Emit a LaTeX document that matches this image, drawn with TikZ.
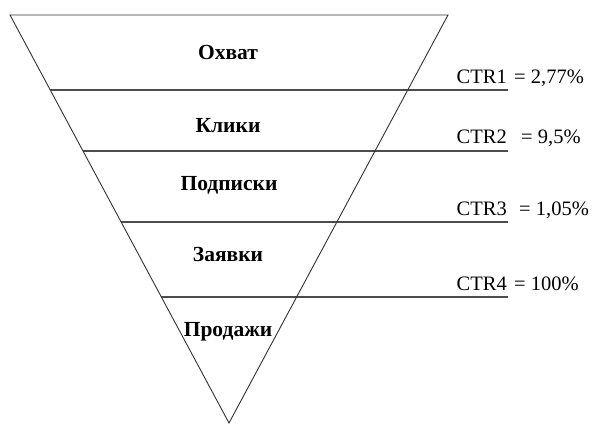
\documentclass[tikz,border=0pt]{standalone}
\usepackage{fontspec}
\setmainfont{Liberation Serif}
\begin{document}
\begin{tikzpicture}[x=1pt,y=-1pt,
  edge/.style={draw=black!80, line width=0.9pt},
  level/.style={draw=black!70, line width=1.6pt},
  stage/.style={font=\fontsize{21.5}{26}\selectfont\bfseries, anchor=base, inner sep=0pt},
  ctr/.style={font=\fontsize{20.5}{24}\selectfont, anchor=base east, inner sep=0pt},
  val/.style={font=\fontsize{20.5}{24}\selectfont, anchor=base west, inner sep=0pt}]
\useasboundingbox (0,0) rectangle (595,426);
\fill[white] (0,0) rectangle (595,426);
% triangle
\coordinate (tl) at (10,15);
\coordinate (tr) at (448,15);
\coordinate (apex) at (229,423);
% level lines
\coordinate (l1a) at (50.3,90);  \coordinate (l1b) at (508,90);
\coordinate (l2a) at (83,151);   \coordinate (l2b) at (508,151);
\coordinate (l3a) at (121,222);  \coordinate (l3b) at (508,222);
\coordinate (l4a) at (161.4,297);\coordinate (l4b) at (508,297);
\draw[level] (l1a) -- (l1b);
\draw[level] (l2a) -- (l2b);
\draw[level] (l3a) -- (l3b);
\draw[level] (l4a) -- (l4b);
\draw[edge, line join=miter] (tr) -- (tl) -- (apex) -- cycle;
% stage labels
\node[stage] (s1) at (228,59.5) {Охват};
\node[stage] (s2) at (228,132) {Клики};
\node[stage] (s3) at (229,190.5) {Подписки};
\node[stage] (s4) at (228,261.5) {Заявки};
\node[stage] (s5) at (228,336.5) {Продажи};
% CTR labels
\node[ctr] (c1) at (507,83.5) {CTR1};
\node[val] (v1) at (514,83.5) {= 2,77\%};
\node[ctr] (c2) at (507,143.5) {CTR2};
\node[val] (v2) at (521,143.5) {= 9,5\%};
\node[ctr] (c3) at (507,215) {CTR3};
\node[val] (v3) at (519,215) {= 1,05\%};
\node[ctr] (c4) at (507,290) {CTR4};
\node[val] (v4) at (514,290) {= 100\%};
\end{tikzpicture}
\end{document}
